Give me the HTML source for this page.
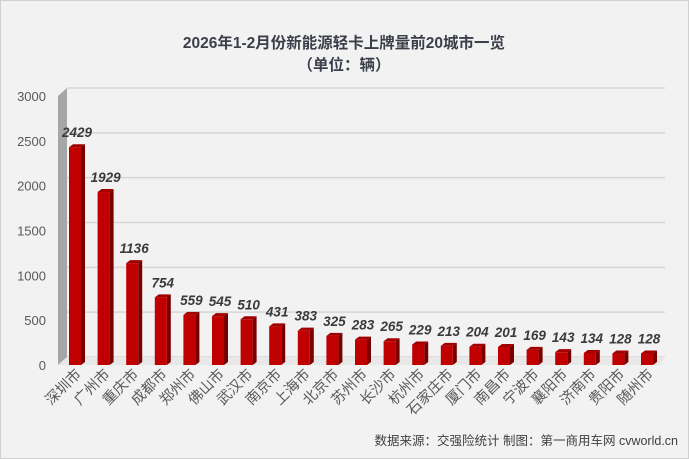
<!DOCTYPE html>
<html><head><meta charset="utf-8"><style>
body{margin:0;background:#fff}
#c{position:relative;width:689px;height:459px;background:#f2f2f2;overflow:hidden;font-family:"Liberation Sans","Noto Sans CJK SC",sans-serif}
</style></head><body>
<div id="c">
<svg id="s" width="689" height="459">
<rect x="0.5" y="0.5" width="688" height="458" fill="#f2f2f2" stroke="#d0d0d0"/>
<text x="344" y="48" text-anchor="middle" font-size="15.5" font-weight="bold" fill="#3a3f4a" font-family="Liberation Sans,Noto Sans CJK SC,sans-serif">2026年1-2月份新能源轻卡上牌量前20城市一览</text>
<text x="344" y="70" text-anchor="middle" font-size="15.5" font-weight="bold" fill="#3a3f4a" font-family="Liberation Sans,Noto Sans CJK SC,sans-serif">（单位：辆）</text>
<text x="678" y="445" text-anchor="end" font-size="12.5" fill="#404040" font-family="Liberation Sans,Noto Sans CJK SC,sans-serif">数据来源：交强险统计 制图：第一商用车网 cvworld.cn</text>
<g id="g"></g>
</svg>
</div>
<script>
const categories=["深圳市","广州市","重庆市","成都市","郑州市","佛山市","武汉市","南京市","上海市","北京市","苏州市","长沙市","杭州市","石家庄市","厦门市","南昌市","宁波市","襄阳市","济南市","贵阳市","随州市"];
const values=[2429,1929,1136,754,559,545,510,431,383,325,283,265,229,213,204,201,169,143,134,128,128];
const yTicks=[0,500,1000,1500,2000,2500,3000];
const ns="http://www.w3.org/2000/svg";
const g=document.getElementById('g');
const y0=365,yMax=3000,ph=269,dx=9,dy=8;
function y(v){return y0-v/yMax*ph;}
function x(i){return 75+i*28.6;}
function el(t,a){const e=document.createElementNS(ns,t);for(const k in a)e.setAttribute(k,a[k]);g.appendChild(e);return e;}
let w=el('polygon',{points:`58,${y(3000)} ${58+dx},${y(3000)-dy} ${58+dx},${y0-dy} 58,${y0}`,fill:'#a6a6a6'});

yTicks.forEach(t=>{
 const l=el('line',{x1:58+dx,x2:665,y1:y(t)-dy,y2:y(t)-dy,stroke:'#d6d6d6','stroke-width':1.5});
 
 const tx=el('text',{x:46,y:y(t)+5,'text-anchor':'end','font-size':13,fill:'#595959'});
 tx.textContent=t;
 
});
const fl=el('polygon',{points:`58,${y0} ${58+dx},${y0-dy} 665,${y0-dy} 660,${y0}`,fill:'#e8e8e8'});

values.forEach((v,i)=>{
 const cx=x(i),bw=12,top=y(v),d=4;
 const s=el('polygon',{points:`${cx+bw/2},${top} ${cx+bw/2+d},${top-3} ${cx+bw/2+d},${y0-3} ${cx+bw/2},${y0}`,fill:'#7a0000'});
 
 const tp=el('polygon',{points:`${cx-bw/2},${top} ${cx-bw/2+d},${top-3} ${cx+bw/2+d},${top-3} ${cx+bw/2},${top}`,fill:'#a00000'});
 
 const r=el('rect',{x:cx-bw/2,y:top,width:bw,height:y0-top,fill:'#c00000'});
 
 const lb=el('text',{x:cx+2,y:top-10,'text-anchor':'middle','font-size':13.5,'font-weight':'bold','font-style':'italic',fill:'#3a3a3a'});
 lb.textContent=v;
 
 const cl=el('text',{x:0,y:0,'text-anchor':'end','font-size':14.5,fill:'#595959',transform:`translate(${cx+7},${y0+10}) rotate(-45)`});
 cl.textContent=categories[i];
 
});
</script>
</body></html>
